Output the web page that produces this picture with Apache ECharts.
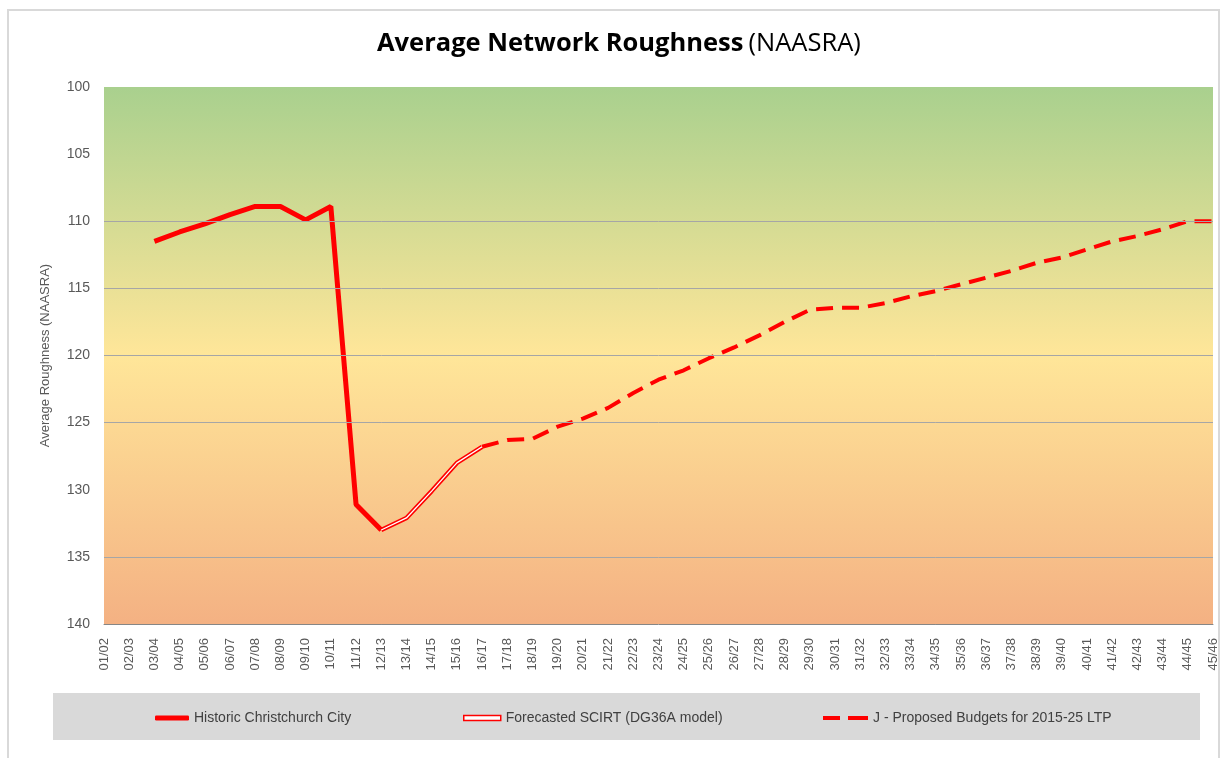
<!DOCTYPE html>
<html>
<head>
<meta charset="utf-8">
<title>Average Network Roughness (NAASRA)</title>
<script src="https://cdn.jsdelivr.net/npm/echarts@6/dist/echarts.min.js"></script>
<style>
  html, body { margin: 0; padding: 0; background: #fff; }
  #chart { width: 1223px; height: 758px; }
</style>
</head>
<body>
<div id="chart"></div>
<script>
// x categories (financial years)
var years = ['01/02','02/03','03/04','04/05','05/06','06/07','07/08','08/09','09/10','10/11',
  '11/12','12/13','13/14','14/15','15/16','16/17','17/18','18/19','19/20','20/21',
  '21/22','22/23','23/24','24/25','25/26','26/27','27/28','28/29','29/30','30/31',
  '31/32','32/33','33/34','34/35','35/36','36/37','37/38','38/39','39/40','40/41',
  '41/42','42/43','43/44','44/45','45/46'];

// Historic Christchurch City
var historic = [null, null, 111.5, 110.8, 110.2, 109.5, 108.9, 108.9, 109.9, 108.9,
  131.1, 133.0];

// Forecasted SCIRT (DG36A model)
var forecast = [null, null, null, null, null, null, null, null, null, null,
  null, 133.0, 132.1, 130.1, 128.0, 126.8];

// J - Proposed Budgets for 2015-25 LTP
var proposed = [null, null, null, null, null, null, null, null, null, null,
  null, null, null, null, null, 126.8, 126.3, 126.2, 125.3, 124.7,
  123.9, 122.8, 121.8, 121.1, 120.2, 119.4, 118.5, 117.5, 116.6, 116.45,
  116.45, 116.1, 115.6, 115.2, 114.7, 114.2, 113.7, 113.1, 112.7, 112.1,
  111.5, 111.1, 110.6, 110.0, 110.0];

// horizontal gridlines visible in the picture
var gridLines = [110, 115, 120, 125, 135];

var names = ['Historic Christchurch City', 'Forecasted SCIRT (DG36A model)', 'J - Proposed Budgets for 2015-25 LTP'];

var chart = echarts.init(document.getElementById('chart'));

var legendText = { fontSize: 14, color: '#404040', fontFamily: 'Liberation Sans' };

var option = {
  animation: false,
  backgroundColor: '#fff',
  title: {
    left: 372,
    top: 26,
    text: '{b|Average Network Roughness} {r|(NAASRA)}',
    textStyle: {
      rich: {
        b: { fontSize: 25.5, fontWeight: 'bold', color: '#000', fontFamily: 'Open Sans' },
        r: { fontSize: 25.5, fontWeight: 'normal', color: '#000', fontFamily: 'Open Sans' }
      }
    }
  },
  graphic: [
    { type: 'rect', z: -10, shape: { x: 8, y: 10, width: 1211, height: 760 },
      style: { fill: 'none', stroke: '#d9d9d9', lineWidth: 2 } },
    { type: 'rect', z: -5, shape: { x: 53, y: 693, width: 1147, height: 47 },
      style: { fill: '#d9d9d9' } }
  ],
  grid: {
    left: 104, right: 10, top: 87, bottom: 134,
    show: true,
    borderWidth: 0,
    backgroundColor: new echarts.graphic.LinearGradient(0, 0, 0, 1, [
      { offset: 0, color: '#a9d08e' },
      { offset: 0.5, color: '#ffe699' },
      { offset: 1, color: '#f4b183' }
    ])
  },
  legend: [
    { left: 155, top: 711, padding: 0, itemWidth: 34, itemHeight: 5, textStyle: legendText,
      data: [{ name: names[0], icon: 'roundRect', itemStyle: { color: '#ff0000' } }] },
    { left: 463, top: 711, padding: 0, itemWidth: 37, itemHeight: 5, textStyle: legendText,
      data: [{ name: names[1], icon: 'rect',
        itemStyle: { color: '#fff', borderColor: '#ff0000', borderWidth: 1.5 } }] },
    { left: 823, top: 711, padding: 0, itemWidth: 45, itemHeight: 4, textStyle: legendText,
      data: [{ name: names[2], icon: 'path://M0,0H17V4H0Z M25,0H45V4H25Z',
        itemStyle: { color: '#ff0000' } }] }
  ],
  xAxis: {
    type: 'category',
    data: years,
    boundaryGap: false,
    axisLine: { lineStyle: { color: '#868686' } },
    axisTick: { show: false },
    axisLabel: { interval: 0, rotate: 90, margin: 14, color: '#595959', fontSize: 13,
      fontFamily: 'Liberation Sans' },
    splitLine: { show: false }
  },
  yAxis: {
    type: 'value',
    inverse: true,
    min: 100, max: 140, interval: 5,
    name: 'Average Roughness (NAASRA)',
    nameLocation: 'middle',
    nameGap: 52,
    nameTextStyle: { color: '#595959', fontSize: 13, fontFamily: 'Liberation Sans' },
    axisLine: { show: false },
    axisTick: { show: false },
    axisLabel: { color: '#595959', fontSize: 14, margin: 14, fontFamily: 'Liberation Sans' },
    splitLine: { show: false }
  },
  series: [
    {
      name: 'grid', type: 'line', data: [], z: 1, silent: true,
      markLine: {
        silent: true, symbol: 'none', label: { show: false },
        lineStyle: { color: '#a6a6a6', width: 1, type: 'solid' },
        data: gridLines.map(function (v) { return { yAxis: v }; })
      }
    },
    {
      name: names[0], type: 'line', data: historic, showSymbol: false, symbol: 'none',
      color: '#ff0000', lineStyle: { color: '#ff0000', width: 5 }, z: 3
    },
    {
      name: names[1], type: 'line', data: forecast, showSymbol: false, symbol: 'none',
      color: '#ff0000', lineStyle: { color: '#ff0000', width: 4.5 }, z: 3
    },
    {
      name: 'forecast-inner', type: 'line', data: forecast, showSymbol: false, symbol: 'none',
      color: '#ffffff', lineStyle: { color: '#ffffff', width: 1.3 }, z: 4
    },
    {
      name: names[2], type: 'line', data: proposed, showSymbol: false, symbol: 'none',
      color: '#ff0000', lineStyle: { color: '#ff0000', width: 4, type: [17, 9] }, z: 3
    }
  ]
};

chart.setOption(option);
</script>
</body>
</html>
